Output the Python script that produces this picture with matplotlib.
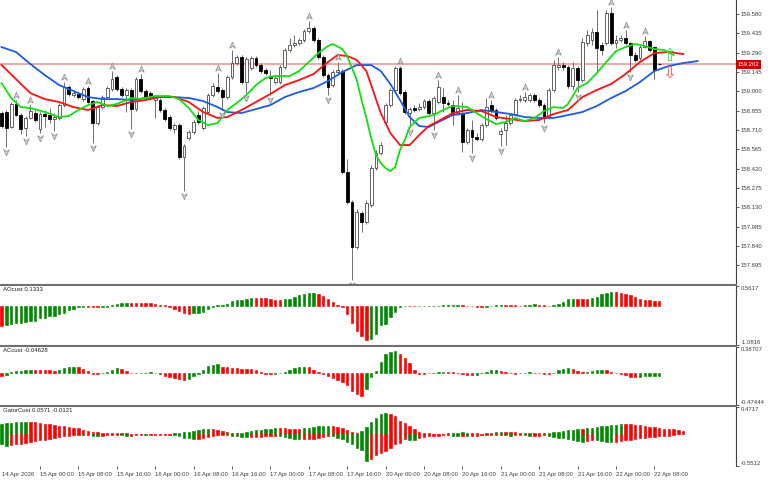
import matplotlib
matplotlib.use('Agg')
import matplotlib.pyplot as plt
from matplotlib.path import Path
from matplotlib.lines import Line2D
from matplotlib.transforms import offset_copy, blended_transform_factory

plt.rcParams['font.family'] = ['Liberation Sans', 'DejaVu Sans']

# ---- H1 candles, 14 Apr 16:00 .. 22 Apr 09:00 ----
open_ = [
    158.837, 158.845, 158.732, 158.905, 158.822, 158.725, 158.800, 158.837, 158.717, 158.830,
    158.822, 158.792, 158.800, 158.897, 159.032, 158.972, 158.980, 158.942, 159.025, 158.927,
    158.762, 158.882, 158.957, 159.017, 159.107, 159.017, 158.972, 159.010, 158.867, 159.092,
    159.002, 158.987, 158.935, 158.935, 158.860, 158.807, 158.717, 158.747, 158.507, 158.650,
    158.695, 158.822, 158.725, 158.845, 158.972, 159.032, 159.010, 158.957, 159.107, 159.212,
    159.257, 159.070, 159.175, 159.250, 159.197, 159.160, 159.115, 159.070, 159.070, 159.182,
    159.310, 159.347, 159.362, 159.385, 159.452, 159.475, 159.385, 159.257, 159.122, 159.047,
    159.145, 159.152, 158.395, 158.170, 157.832, 158.087, 158.020, 158.147, 158.425, 158.537,
    158.770, 158.897, 159.010, 159.175, 158.995, 158.837, 158.875, 158.867, 158.882, 158.927,
    158.837, 158.920, 158.957, 158.912, 158.897, 158.837, 158.837, 158.620, 158.710, 158.657,
    158.642, 158.747, 158.897, 158.860, 158.680, 158.710, 158.762, 158.830, 158.935, 158.935,
    158.935, 158.972, 158.935, 158.897, 158.807, 159.010, 159.182, 159.197, 159.182, 159.040,
    159.175, 159.085, 159.362, 159.385, 159.445, 159.347, 159.362, 159.588, 159.362, 159.385,
    159.400, 159.362, 159.272, 159.250, 159.332, 159.377, 159.332, 159.205]
high = [
    158.852, 158.860, 158.920, 158.935, 158.837, 158.815, 158.897, 158.860, 158.845, 158.860,
    158.875, 158.837, 158.912, 159.070, 159.047, 159.010, 158.995, 159.032, 159.040, 158.935,
    158.897, 158.972, 159.040, 159.152, 159.122, 159.032, 159.025, 159.025, 159.107, 159.130,
    159.017, 159.002, 158.972, 158.950, 158.875, 158.822, 158.762, 158.762, 158.605, 158.710,
    158.785, 158.852, 158.890, 158.987, 159.062, 159.137, 159.025, 159.122, 159.310, 159.272,
    159.272, 159.257, 159.265, 159.265, 159.212, 159.175, 159.160, 159.122, 159.197, 159.325,
    159.400, 159.422, 159.400, 159.467, 159.527, 159.490, 159.400, 159.272, 159.137, 159.160,
    159.220, 159.167, 158.492, 158.185, 158.117, 158.102, 158.185, 158.447, 158.560, 158.620,
    158.912, 159.025, 159.190, 159.190, 159.010, 158.882, 158.897, 158.912, 158.942, 158.942,
    158.965, 159.085, 159.025, 158.935, 158.935, 158.972, 158.920, 158.725, 158.785, 158.687,
    158.762, 158.950, 158.935, 158.875, 158.725, 158.822, 158.837, 158.950, 158.972, 158.995,
    158.987, 158.987, 158.950, 158.912, 159.025, 159.235, 159.257, 159.220, 159.197, 159.220,
    159.190, 159.400, 159.460, 159.475, 159.610, 159.370, 159.610, 159.632, 159.422, 159.422,
    159.460, 159.370, 159.295, 159.347, 159.415, 159.385, 159.340, 159.212]
low = [
    158.725, 158.582, 158.725, 158.815, 158.680, 158.665, 158.792, 158.770, 158.687, 158.732,
    158.762, 158.702, 158.785, 158.882, 158.965, 158.957, 158.942, 158.927, 158.912, 158.612,
    158.747, 158.867, 158.942, 159.002, 159.002, 158.957, 158.845, 158.717, 158.852, 158.987,
    158.942, 158.935, 158.800, 158.845, 158.777, 158.710, 158.687, 158.492, 158.252, 158.635,
    158.680, 158.755, 158.710, 158.830, 158.957, 158.987, 158.860, 158.942, 159.092, 159.197,
    159.055, 158.987, 159.160, 159.182, 159.137, 159.122, 158.972, 159.055, 159.055, 159.167,
    159.295, 159.332, 159.347, 159.370, 159.437, 159.370, 159.242, 159.107, 158.972, 159.032,
    159.130, 158.380, 158.155, 157.585, 157.817, 157.945, 158.005, 158.132, 158.410, 158.522,
    158.755, 158.882, 158.995, 158.972, 158.830, 158.732, 158.845, 158.852, 158.867, 158.822,
    158.710, 158.905, 158.845, 158.890, 158.747, 158.822, 158.545, 158.605, 158.537, 158.627,
    158.627, 158.732, 158.837, 158.785, 158.590, 158.597, 158.747, 158.815, 158.920, 158.920,
    158.920, 158.920, 158.882, 158.762, 158.792, 158.995, 159.160, 159.160, 159.025, 159.010,
    158.995, 159.070, 159.340, 159.347, 159.145, 159.272, 159.347, 159.347, 159.325, 159.370,
    159.347, 159.145, 159.220, 159.235, 159.325, 159.295, 159.092, 159.197]
close_ = [
    158.740, 158.725, 158.905, 158.822, 158.717, 158.800, 158.852, 158.785, 158.830, 158.815,
    158.792, 158.807, 158.897, 159.032, 158.980, 158.987, 158.957, 159.017, 158.920, 158.762,
    158.882, 158.957, 159.025, 159.092, 159.017, 158.972, 159.010, 158.867, 159.092, 159.002,
    158.957, 158.957, 158.957, 158.860, 158.792, 158.725, 158.747, 158.507, 158.590, 158.695,
    158.770, 158.770, 158.875, 158.972, 159.040, 159.002, 158.957, 159.107, 159.212, 159.257,
    159.070, 159.242, 159.250, 159.197, 159.152, 159.137, 159.100, 159.100, 159.182, 159.310,
    159.347, 159.362, 159.385, 159.452, 159.475, 159.385, 159.257, 159.122, 159.032, 159.145,
    159.160, 158.395, 158.170, 157.832, 158.095, 158.020, 158.162, 158.425, 158.537, 158.597,
    158.897, 159.010, 159.175, 158.987, 158.845, 158.867, 158.860, 158.882, 158.927, 158.837,
    158.950, 159.032, 158.912, 158.905, 158.830, 158.875, 158.620, 158.710, 158.657, 158.642,
    158.747, 158.882, 158.852, 158.800, 158.702, 158.762, 158.822, 158.935, 158.942, 158.957,
    158.972, 158.935, 158.897, 158.800, 159.010, 159.197, 159.197, 159.182, 159.040, 159.175,
    159.085, 159.370, 159.422, 159.445, 159.325, 159.310, 159.588, 159.362, 159.385, 159.400,
    159.362, 159.272, 159.235, 159.332, 159.377, 159.310, 159.160, 159.202]
last_price = 159.202

# alligator lines (read at these bar positions, shifted lines run past the last bar)
jaw_idx = [0, 3, 6, 9, 12, 15, 18, 21, 24, 27, 30, 33, 36, 39, 42, 45, 47, 50, 53, 56,
           59, 62, 65, 68, 71, 74, 77, 79, 81, 83, 85, 87, 89, 91, 94, 97, 100, 103, 106, 109,
           112, 115, 118, 121, 124, 127, 130, 133, 136, 139, 142, 145]
jaw_val = [159.332, 159.295, 159.205, 159.122, 159.047, 159.002, 158.957, 158.942, 158.942, 158.935,
           158.950, 158.957, 158.957, 158.950, 158.927, 158.882, 158.845, 158.837, 158.867, 158.897,
           158.957, 158.995, 159.025, 159.077, 159.145, 159.197, 159.197, 159.152, 159.055, 158.935,
           158.807, 158.740, 158.732, 158.770, 158.822, 158.837, 158.860, 158.845, 158.830, 158.807,
           158.800, 158.800, 158.822, 158.845, 158.890, 158.950, 159.002, 159.070, 159.152, 159.190,
           159.212, 159.227]
teeth_idx = [0, 3, 6, 9, 12, 15, 18, 21, 24, 27, 30, 33, 36, 39, 42, 45, 47, 50, 53, 56,
             59, 62, 65, 68, 70, 72, 74, 76, 77, 79, 81, 83, 85, 87, 89, 91, 94, 97, 100, 103,
             106, 109, 112, 115, 118, 121, 124, 127, 130, 133, 136, 139, 142]
teeth_val = [159.197, 159.092, 158.987, 158.942, 158.920, 158.882, 158.860, 158.897, 158.890, 158.920,
             158.935, 158.957, 158.957, 158.920, 158.845, 158.800, 158.807, 158.860, 158.920, 158.980,
             159.047, 159.085, 159.130, 159.220, 159.272, 159.265, 159.235, 159.152, 159.047, 158.837,
             158.687, 158.597, 158.597, 158.672, 158.740, 158.777, 158.837, 158.860, 158.852, 158.807,
             158.792, 158.777, 158.785, 158.830, 158.860, 158.957, 159.010, 159.055, 159.130, 159.220,
             159.287, 159.295, 159.280]
lips_idx = [0, 2, 4, 6, 9, 12, 14, 16, 18, 20, 22, 24, 27, 29, 32, 35, 37, 39, 41, 43,
            45, 47, 49, 51, 53, 55, 57, 60, 62, 64, 66, 68, 69, 71, 72, 74, 75, 76, 77, 78,
            79, 80, 81, 82, 83, 84, 85, 87, 90, 92, 94, 97, 99, 101, 103, 105, 107, 109, 111, 113,
            115, 117, 118, 120, 122, 124, 126, 128, 130, 132, 134, 136, 138, 140]
lips_val = [159.062, 158.950, 158.882, 158.875, 158.845, 158.807, 158.815, 158.860, 158.897, 158.920,
            158.890, 158.905, 158.950, 158.942, 158.965, 158.965, 158.942, 158.875, 158.785, 158.747,
            158.762, 158.860, 158.912, 158.972, 159.047, 159.100, 159.115, 159.115, 159.152, 159.220,
            159.287, 159.340, 159.355, 159.317, 159.265, 159.085, 158.935, 158.800, 158.650, 158.522,
            158.462, 158.425, 158.402, 158.432, 158.560, 158.635, 158.732, 158.800, 158.822, 158.860,
            158.890, 158.882, 158.837, 158.792, 158.755, 158.770, 158.800, 158.777, 158.800, 158.852,
            158.882, 158.875, 158.905, 159.025, 159.062, 159.137, 159.220, 159.302, 159.332, 159.355,
            159.340, 159.317, 159.310, 159.272]

fractal_up = [3, 6, 13, 18, 23, 29, 45, 48, 64, 70, 83, 91, 95, 102, 109, 116, 127, 130, 134]
fractal_dn = [1, 5, 8, 11, 19, 27, 38, 46, 51, 56, 68, 73, 85, 90, 98, 104, 113, 120, 131]

signal_bar = [139]
signal_up = [159.262]
signal_dn = [159.138]

# ---- oscillators ----
ao = [
    -0.55, -0.53, -0.49, -0.465, -0.46, -0.44, -0.42, -0.40, -0.34, -0.32,
    -0.28, -0.275, -0.23, -0.19, -0.11, -0.065, -0.028, -0.01, -0.012, -0.02,
    -0.028, -0.02, -0.01, 0.028, 0.074, 0.093, 0.10, 0.093, 0.086, 0.085,
    0.084, 0.082, 0.074, 0.046, 0.019, -0.019, -0.074, -0.14, -0.20, -0.215,
    -0.20, -0.186, -0.167, -0.074, -0.028, 0.019, 0.037, 0.074, 0.13, 0.158,
    0.167, 0.204, 0.223, 0.222, 0.221, 0.220, 0.204, 0.167, 0.158, 0.186,
    0.204, 0.26, 0.306, 0.343, 0.371, 0.372, 0.343, 0.278, 0.204, 0.111,
    0.046, -0.028, -0.232, -0.464, -0.696, -0.835, -0.947, -0.928, -0.789, -0.538,
    -0.51, -0.30, -0.17, -0.03, 0.006, 0.004, 0.003, 0.006, 0.008, 0.010,
    0.012, 0.018, 0.025, 0.027, 0.030, 0.032, 0.020, 0.010, -0.008, -0.018,
    -0.028, -0.018, 0.008, 0.028, 0.046, 0.037, 0.028, 0.020, 0.018, 0.028,
    0.044, 0.047, 0.030, 0.020, 0.018, 0.028, 0.065, 0.111, 0.186, 0.204,
    0.203, 0.202, 0.200, 0.232, 0.260, 0.325, 0.371, 0.399, 0.390, 0.371,
    0.343, 0.30, 0.25, 0.21, 0.18, 0.16, 0.145, 0.1333]
ac = [
    -0.039, -0.024, 0.015, 0.024, 0.034, 0.039, 0.049, 0.044, 0.041, 0.040,
    0.039, 0.038, 0.049, 0.068, 0.088, 0.097, 0.088, 0.058, 0.024, -0.010,
    -0.015, -0.005, 0.015, 0.049, 0.073, 0.058, 0.024, 0.005, 0.002, 0.005,
    0.007, 0.010, 0.005, -0.015, -0.039, -0.058, -0.073, -0.083, -0.097, -0.088,
    -0.049, -0.015, 0.039, 0.107, 0.127, 0.131, 0.097, 0.088, 0.073, 0.068,
    0.063, 0.058, 0.056, 0.039, 0.010, -0.010, -0.015, -0.010, 0.002, 0.015,
    0.049, 0.073, 0.088, 0.093, 0.088, 0.049, 0.015, -0.015, -0.039, -0.073,
    -0.107, -0.136, -0.170, -0.268, -0.317, -0.341, -0.244, -0.058, 0.024, 0.170,
    0.282, 0.307, 0.326, 0.278, 0.219, 0.146, 0.049, -0.010, -0.015, -0.005,
    0.005, 0.015, 0.019, 0.015, 0.010, 0.005, -0.015, -0.024, -0.029, -0.024,
    -0.005, 0.015, 0.039, 0.049, 0.024, 0.010, -0.005, -0.015, -0.005, 0.005,
    0.015, 0.005, 0.001, -0.010, -0.015, 0.005, 0.039, 0.058, 0.073, 0.058,
    0.024, 0.010, 0.015, 0.029, 0.044, 0.049, 0.044, 0.015, -0.005, -0.015,
    -0.029, -0.054, -0.058, -0.054, -0.051, -0.050, -0.048, -0.04628]
gator_up = [
    0.173, 0.191, 0.202, 0.208, 0.214, 0.220, 0.220, 0.208, 0.197, 0.185,
    0.173, 0.162, 0.150, 0.139, 0.127, 0.116, 0.104, 0.081, 0.058, 0.046,
    0.035, 0.029, 0.023, 0.023, 0.029, 0.023, 0.017, 0.012, 0.012, 0.012,
    0.012, 0.006, 0.006, 0.006, 0.006, 0.012, 0.017, 0.023, 0.035, 0.046,
    0.058, 0.075, 0.087, 0.092, 0.087, 0.075, 0.058, 0.040, 0.029, 0.023,
    0.029, 0.040, 0.058, 0.069, 0.081, 0.092, 0.098, 0.104, 0.104, 0.104,
    0.098, 0.098, 0.098, 0.104, 0.116, 0.127, 0.139, 0.145, 0.150, 0.145,
    0.127, 0.104, 0.069, 0.035, 0.023, 0.058, 0.127, 0.220, 0.289, 0.347,
    0.376, 0.347, 0.318, 0.231, 0.202, 0.145, 0.087, 0.046, 0.029, 0.017,
    0.012, 0.012, 0.012, 0.017, 0.023, 0.029, 0.035, 0.029, 0.023, 0.017,
    0.012, 0.017, 0.029, 0.040, 0.046, 0.046, 0.040, 0.035, 0.029, 0.029,
    0.023, 0.023, 0.017, 0.023, 0.029, 0.035, 0.046, 0.058, 0.069, 0.081,
    0.098, 0.087, 0.104, 0.116, 0.127, 0.139, 0.145, 0.156, 0.162, 0.173,
    0.173, 0.173, 0.168, 0.162, 0.145, 0.133, 0.133, 0.116, 0.098, 0.098,
    0.087, 0.075, 0.0571]
gator_dn = [
    -0.173, -0.202, -0.191, -0.173, -0.162, -0.145, -0.127, -0.116, -0.104, -0.092,
    -0.081, -0.058, -0.046, -0.035, -0.023, -0.012, -0.012, -0.017, -0.017, -0.023,
    -0.029, -0.023, -0.017, -0.012, -0.012, -0.017, -0.029, -0.029, -0.012, -0.006,
    -0.012, -0.006, -0.006, -0.006, -0.006, -0.006, -0.012, -0.029, -0.058, -0.069,
    -0.087, -0.087, -0.069, -0.046, -0.029, -0.017, -0.012, -0.017, -0.023, -0.029,
    -0.040, -0.046, -0.046, -0.046, -0.040, -0.035, -0.029, -0.023, -0.029, -0.040,
    -0.058, -0.075, -0.087, -0.087, -0.081, -0.075, -0.058, -0.040, -0.029, -0.035,
    -0.058, -0.087, -0.127, -0.173, -0.231, -0.277, -0.462, -0.434, -0.358, -0.318,
    -0.289, -0.231, -0.173, -0.145, -0.087, -0.092, -0.098, -0.069, -0.046, -0.035,
    -0.029, -0.023, -0.017, -0.017, -0.023, -0.029, -0.029, -0.035, -0.029, -0.023,
    -0.017, -0.017, -0.012, -0.012, -0.012, -0.017, -0.023, -0.017, -0.012, -0.017,
    -0.029, -0.029, -0.023, -0.017, -0.029, -0.046, -0.058, -0.069, -0.087, -0.104,
    -0.116, -0.127, -0.116, -0.098, -0.104, -0.116, -0.127, -0.139, -0.127, -0.116,
    -0.104, -0.092, -0.081, -0.064, -0.058, -0.052, -0.040, -0.035, -0.029, -0.029,
    -0.0121]

price_ticks = [159.580, 159.435, 159.290, 159.145, 159.000, 158.855, 158.710,
               158.565, 158.420, 158.275, 158.130, 157.985, 157.840, 157.695]
time_ticks = [0, 8, 16, 24, 32, 40, 48, 56, 64, 72, 80, 88, 96, 104, 112, 120, 128, 136]
time_labels = ['14 Apr 2026', '15 Apr 00:00', '15 Apr 08:00', '15 Apr 16:00', '16 Apr 00:00',
               '16 Apr 08:00', '16 Apr 16:00', '17 Apr 00:00', '17 Apr 08:00', '17 Apr 16:00',
               '20 Apr 00:00', '20 Apr 08:00', '20 Apr 16:00', '21 Apr 00:00', '21 Apr 08:00',
               '21 Apr 16:00', '22 Apr 00:00', '22 Apr 08:00']

GREEN = '#008a00'
RED = '#ff0000'
AXC = '#404040'
FS = 4.3

W, H = 768, 480
fig = plt.figure(figsize=(W / 100, H / 100), dpi=100)
fig.patch.set_facecolor('white')


def px_rect(x0, y0, x1, y1):
    return [x0 / W, 1 - y1 / H, (x1 - x0) / W, (y1 - y0) / H]


ax = fig.add_axes(px_rect(0, 0, 736, 284))
ax_ao = fig.add_axes(px_rect(0, 286, 736, 345))
ax_ac = fig.add_axes(px_rect(0, 347, 736, 405))
ax_gt = fig.add_axes(px_rect(0, 407, 736, 466))

for a in (ax, ax_ao, ax_ac, ax_gt):
    a.set_xlim(-0.33, 153.0)
    for s in ('top', 'left', 'bottom'):
        a.spines[s].set_visible(False)
    a.spines['right'].set_color(AXC)
    a.spines['right'].set_linewidth(0.8)
    a.yaxis.tick_right()
    a.tick_params(axis='y', direction='out', length=2, width=0.6, colors=AXC,
                  pad=1.5, labelsize=FS)
    a.set_facecolor('white')
for a in (ax, ax_ao, ax_ac):
    a.set_xticks([])

# ---- main price panel ----
ax.set_ylim(157.555, 159.685)
ax.set_yticks(price_ticks)
ax.set_yticklabels(['%.3f' % p for p in price_ticks])

ax.axhline(last_price, color='#f0a0a0', lw=1.3, zorder=1)

idx = list(range(len(close_)))
bull = [c >= o for o, c in zip(open_, close_)]
ax.vlines(idx, low, high, colors='#6e6e6e', lw=0.7, zorder=2)
ax.bar(idx, [c - o for o, c in zip(open_, close_)], bottom=open_, width=0.56,
       color=['white' if b else 'black' for b in bull],
       edgecolor=['#4a4a4a' if b else 'black' for b in bull], linewidth=0.6, zorder=3)

ax.plot(jaw_idx, jaw_val, color='#1c5ce0', lw=1.3, zorder=4)
ax.plot(teeth_idx, teeth_val, color='#ff1010', lw=1.3, zorder=4)
ax.plot(lips_idx, lips_val, color='#10e010', lw=1.3, zorder=4)

up_arrow = Path([(0, 1), (0.8, -0.8), (0, -0.3), (-0.8, -0.8), (0, 1)],
                [Path.MOVETO, Path.LINETO, Path.LINETO, Path.LINETO, Path.CLOSEPOLY])
dn_arrow = Path([(0, -1), (0.8, 0.8), (0, 0.3), (-0.8, 0.8), (0, -1)],
                [Path.MOVETO, Path.LINETO, Path.LINETO, Path.LINETO, Path.CLOSEPOLY])
tr_up = offset_copy(ax.transData, fig=fig, x=0, y=5, units='dots')
tr_dn = offset_copy(ax.transData, fig=fig, x=0, y=-5, units='dots')
ax.plot(fractal_up, [high[i] for i in fractal_up], ls='none', marker=up_arrow, ms=5,
        mfc='#d2d2d2', mec='#8c8c8c', mew=0.5, transform=tr_up, zorder=5, clip_on=False)
ax.plot(fractal_dn, [low[i] for i in fractal_dn], ls='none', marker=dn_arrow, ms=5,
        mfc='#d2d2d2', mec='#8c8c8c', mew=0.5, transform=tr_dn, zorder=5)

for b, v in zip(signal_bar, signal_up):
    ax.text(b, v, '\u21e7', family=['DejaVu Sans'], fontsize=12, color='#40d040',
            ha='center', va='center', zorder=6)
for b, v in zip(signal_bar, signal_dn):
    ax.text(b, v, '\u21e9', family=['DejaVu Sans'], fontsize=12, color='#ff5050',
            ha='center', va='center', zorder=6)

trans = blended_transform_factory(ax.transAxes, ax.transData)
ax.text(1.002, last_price, '%.3f' % last_price, transform=trans, ha='left', va='center',
        fontsize=FS, color='white', clip_on=False, zorder=10,
        bbox=dict(boxstyle='square,pad=0.3', fc='#d00000', ec='none'))


# ---- oscillator panels ----
def rise_colors(vals, first):
    # green when the bar is higher than the one before, red otherwise
    cols = [first]
    for prev, cur in zip(vals[:-1], vals[1:]):
        cols.append(GREEN if cur > prev else RED)
    return cols


def abs_colors(vals, first):
    # gator: green when the bar grows away from zero
    cols = [first]
    for prev, cur in zip(vals[:-1], vals[1:]):
        cols.append(GREEN if abs(cur) > abs(prev) else RED)
    return cols


def hist(a, vals, cols):
    # thin edge in the bar colour keeps near-zero bars visible as dashes
    a.bar(range(len(vals)), vals, width=0.5, color=cols, edgecolor=cols, linewidth=0.45)


def panel(a, lo, hi, fmt_lo, fmt_hi, title):
    a.set_ylim(lo, hi)
    a.set_yticks([lo, hi])
    a.set_yticklabels([fmt_lo, fmt_hi])
    lbls = a.get_yticklabels()
    lbls[0].set_va('bottom')
    lbls[1].set_va('top')
    a.text(0.004, 0.985, title, transform=a.transAxes, ha='left', va='top',
           fontsize=FS, color='#202020')


hist(ax_ao, ao, rise_colors(ao, RED))
panel(ax_ao, -1.0816, 0.5617, '-1.0816', '0.5617', 'AOcust 0.1333')

hist(ax_ac, ac, rise_colors(ac, RED))
panel(ax_ac, -0.47444, 0.38707, '-0.47444', '0.38707', 'ACcust -0.04628')

hist(ax_gt, gator_up, abs_colors(gator_up, GREEN))
hist(ax_gt, gator_dn, abs_colors(gator_dn, GREEN))
panel(ax_gt, -0.5512, 0.4717, '-0.5512', '0.4717', 'GatorCust 0.0571 -0.0121')

ax_gt.set_xticks(time_ticks)
ax_gt.set_xticklabels(time_labels)
ax_gt.tick_params(axis='x', direction='out', length=2.5, width=0.6, colors=AXC,
                  pad=1.5, labelsize=FS)
for lbl in ax_gt.get_xticklabels():
    lbl.set_ha('left')
ax_gt.xaxis.get_major_ticks()[0].tick1line.set_visible(False)

# panel separators
for yy in (285, 346, 406):
    fig.add_artist(Line2D([0, 736 / W], [1 - yy / H] * 2, transform=fig.transFigure,
                          color='#707070', lw=1.5))

fig.savefig('out.png', dpi=100, facecolor='white')
